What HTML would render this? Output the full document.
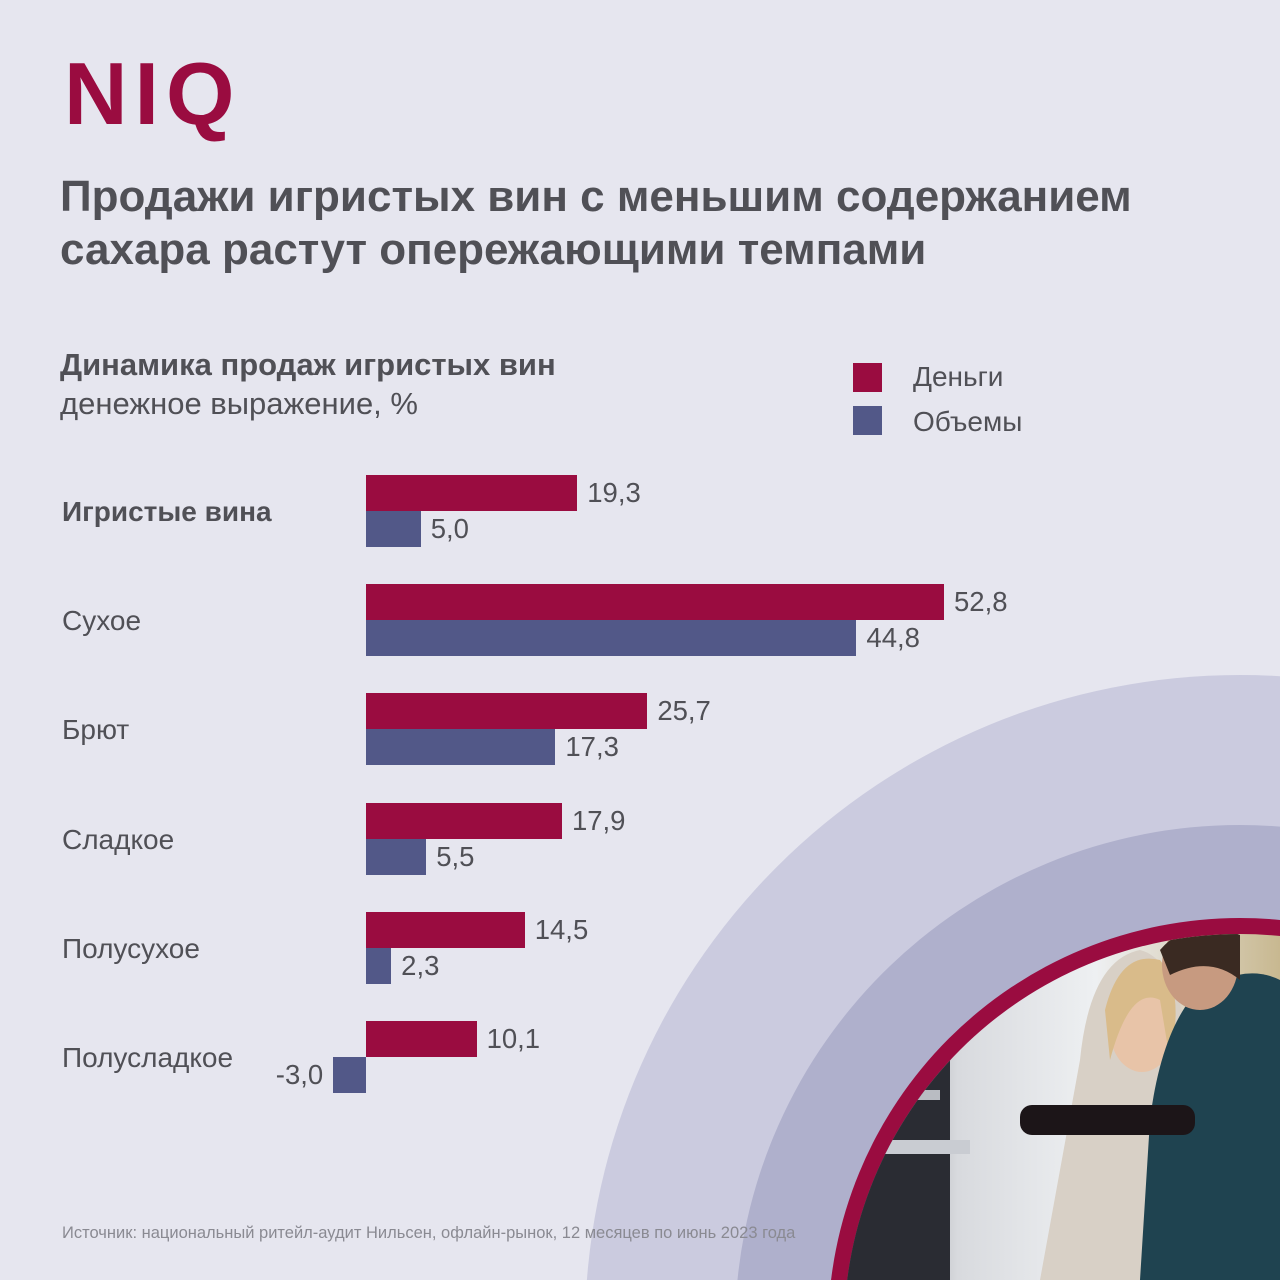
<!DOCTYPE html>
<html><head><meta charset="utf-8"><style>
html,body{margin:0;width:1280px;height:1280px;overflow:hidden}
body{background:#e6e6ef;font-family:"Liberation Sans",sans-serif;position:relative}
.a{position:absolute;white-space:nowrap}
</style></head><body>
<svg class="a" style="left:0;top:0" width="1280" height="1280">
<defs><clipPath id="ph"><circle cx="1240" cy="1330" r="396"/></clipPath>
<linearGradient id="bg" x1="0" x2="1" y1="0" y2="0"><stop offset="0" stop-color="#5a5f68"/><stop offset="0.3" stop-color="#d8dade"/><stop offset="0.6" stop-color="#eef0f2"/><stop offset="1" stop-color="#c8b890"/></linearGradient></defs>
<circle cx="1240" cy="1330" r="655" fill="#cbcbdf"/>
<circle cx="1240" cy="1330" r="505" fill="#afb0cc"/>
<circle cx="1240" cy="1330" r="412" fill="#9a0c40"/>
<g clip-path="url(#ph)">
<rect x="820" y="920" width="460" height="360" fill="url(#bg)"/>
<rect x="840" y="1000" width="110" height="280" fill="#2a2c33"/>
<rect x="840" y="1140" width="130" height="14" fill="#c9ccd2"/>
<rect x="840" y="1090" width="100" height="10" fill="#b9bcc2"/>
<path d="M1080 1060 Q1090 960 1140 950 Q1180 960 1190 1060 L1200 1280 L1040 1280 Z" fill="#d8d0c6"/>
<ellipse cx="1142" cy="1030" rx="32" ry="42" fill="#e8c4a8"/>
<path d="M1105 1010 Q1120 950 1160 960 Q1185 990 1170 1060 L1160 1000 Q1130 985 1110 1060 Z" fill="#d9bb8a"/>
<path d="M1190 1000 Q1240 960 1280 980 L1280 1280 L1140 1280 L1150 1120 Q1160 1040 1190 1000 Z" fill="#1f4350"/>
<ellipse cx="1200" cy="965" rx="38" ry="45" fill="#c79a80"/>
<path d="M1160 950 Q1190 915 1240 935 L1240 980 Q1210 955 1170 975 Z" fill="#3a2a22"/>
<rect x="1020" y="1105" width="175" height="30" rx="12" fill="#1c1518"/>
</g>
</svg>
<div class="a" style="left:64px;top:50px;font-size:88px;font-weight:bold;color:#9a0c40;letter-spacing:7px;line-height:88px">NIQ</div>
<div class="a" style="left:60px;top:170px;font-size:44px;font-weight:bold;color:#505056;line-height:53px">Продажи игристых вин с меньшим содержанием<br>сахара растут опережающими темпами</div>
<div class="a" style="left:60px;top:347px;font-size:31px;font-weight:bold;color:#505056">Динамика продаж игристых вин</div>
<div class="a" style="left:60px;top:386px;font-size:31px;color:#505056">денежное выражение, %</div>
<div class="a" style="left:853px;top:363px;width:29px;height:29px;background:#9a0c40"></div>
<div class="a" style="left:913px;top:361px;font-size:28px;color:#505056">Деньги</div>
<div class="a" style="left:853px;top:406px;width:29px;height:29px;background:#525888"></div>
<div class="a" style="left:913px;top:406px;font-size:28px;color:#505056">Объемы</div>
<div id="chart"></div>
<div class="a" style="left:62px;top:1224px;font-size:16.5px;color:#8a8a92">Источник: национальный ритейл-аудит Нильсен, офлайн-рынок, 12 месяцев по июнь 2023 года</div>
<script>
const categories=["Игристые вина","Сухое","Брют","Сладкое","Полусухое","Полусладкое"];
const money=[19.3,52.8,25.7,17.9,14.5,10.1];
const volume=[5.0,44.8,17.3,5.5,2.3,-3.0];
const x0=366, k=578/52.8, top0=475, step=109.2, bh=36;
const X=v=>x0+v*k;
const c=document.getElementById('chart');
const fmt=v=>v.toFixed(1).replace('.',',');
function bar(v,y,col,name){
  const b=document.createElement('div');
  
  
  const l=Math.min(X(0),X(v)),w=Math.abs(X(v)-X(0));
  b.className='a';b.style.cssText=`left:${l}px;top:${y}px;width:${w}px;height:${bh}px;background:${col}`;
  c.appendChild(b);
  const t=document.createElement('div');
  
  
  t.className='a';t.textContent=fmt(v);
  t.style.cssText=`top:${y+2}px;font-size:27.5px;color:#505056;`+(v>=0?`left:${X(v)+10}px`:`right:${1280-X(v)+10}px`);
  c.appendChild(t);
}
categories.forEach((cat,i)=>{
  const y=top0+i*step;
  const l=document.createElement('div');
  
  
  l.className='a';l.textContent=cat;
  l.style.cssText=`left:62px;top:${y+21}px;font-size:28px;color:#505056;`+(i==0?'font-weight:bold':'');
  c.appendChild(l);
  bar(money[i],y,'#9a0c40','bar-money');
  bar(volume[i],y+bh,'#525888','bar-volume');
});
</script>
</body></html>
